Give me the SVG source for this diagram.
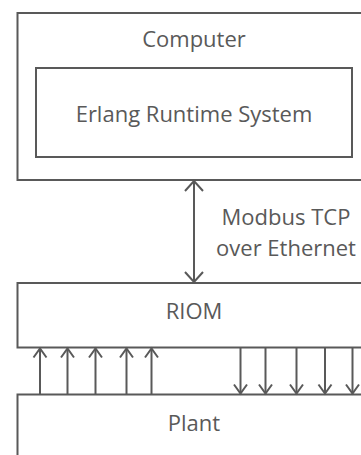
<svg xmlns="http://www.w3.org/2000/svg" width="361" height="455" viewBox="0 0 361 455">
<defs>
<style>
.box{fill:#ffffff;stroke:#595959;stroke-width:2}
.lbl{font-family:"Open Sans","Liberation Sans",sans-serif;font-size:22px;fill:#595959;text-anchor:middle}
.conn{stroke:#595959;stroke-width:2;fill:none}
.big{marker-start:url(#hb);marker-end:url(#hb)}
.sm{marker-end:url(#hs)}
</style>
<marker id="hb" markerUnits="userSpaceOnUse" markerWidth="30" markerHeight="30" refX="0" refY="0" orient="auto-start-reverse" overflow="visible">
<path d="M-10,-9 L0,0 L-10,9" fill="none" stroke="#595959" stroke-width="2"/>
</marker>
<marker id="hs" markerUnits="userSpaceOnUse" markerWidth="20" markerHeight="20" refX="0" refY="0" orient="auto" overflow="visible">
<path d="M-9,-6.5 L0,0 L-9,6.5" fill="none" stroke="#595959" stroke-width="2"/>
</marker>
</defs>
<rect width="361" height="455" fill="#ffffff"/>
<g id="computer">
<rect class="box" x="17.5" y="13" width="360" height="167"/>
<text class="lbl" x="194" y="47">Computer</text>
</g>
<g id="erlang">
<rect class="box" x="36" y="68" width="316" height="89"/>
<text class="lbl" x="194" y="121.5">Erlang Runtime System</text>
</g>
<g id="riom">
<rect class="box" x="17.5" y="283" width="360" height="64.5"/>
<text class="lbl" x="194" y="319">RIOM</text>
</g>
<g id="plant">
<rect class="box" x="17.5" y="394.5" width="360" height="100"/>
<text class="lbl" x="194" y="431">Plant</text>
</g>
<g id="connectors">
<line class="conn big" x1="194" y1="181" x2="194" y2="282"/>
<text class="lbl" x="286" y="225">Modbus TCP</text>
<text class="lbl" x="286" y="256">over Ethernet</text>
<line class="conn sm" x1="40" y1="394" x2="40" y2="348.5"/>
<line class="conn sm" x1="67.5" y1="394" x2="67.5" y2="348.5"/>
<line class="conn sm" x1="95.5" y1="394" x2="95.5" y2="348.5"/>
<line class="conn sm" x1="126.5" y1="394" x2="126.5" y2="348.5"/>
<line class="conn sm" x1="151.5" y1="394" x2="151.5" y2="348.5"/>
<line class="conn sm" x1="240.5" y1="348" x2="240.5" y2="393.5"/>
<line class="conn sm" x1="265.5" y1="348" x2="265.5" y2="393.5"/>
<line class="conn sm" x1="296.5" y1="348" x2="296.5" y2="393.5"/>
<line class="conn sm" x1="325" y1="348" x2="325" y2="393.5"/>
<line class="conn sm" x1="352.5" y1="348" x2="352.5" y2="393.5"/>
</g>
</svg>
